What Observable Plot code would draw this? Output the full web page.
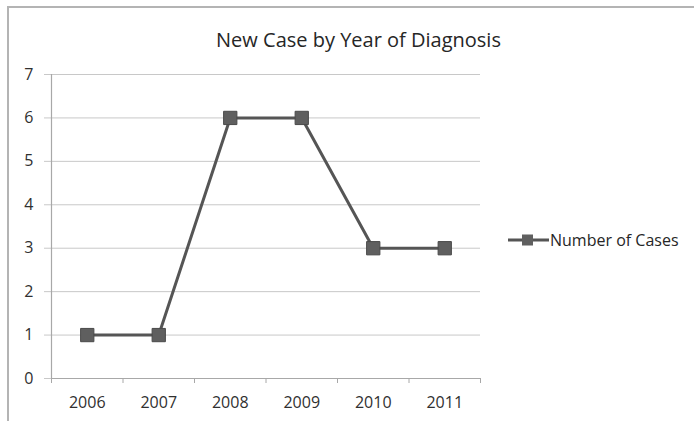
<!DOCTYPE html>
<html>
<head>
<meta charset="utf-8">
<script src="https://cdn.jsdelivr.net/npm/d3@7"></script>
<script src="https://cdn.jsdelivr.net/npm/@observablehq/plot@0.6"></script>
<style>
  html, body { margin: 0; padding: 0; background: #fff; overflow: hidden; }
  #wrap { position: relative; width: 694px; height: 421px; overflow: hidden; font-family: "Open Sans", Lato, sans-serif; }
  #frame { position: absolute; left: 7px; top: 6px; width: 720px; height: 450px; border-left: 2px solid #b4b4b4; border-top: 2px solid #b4b4b4; box-sizing: border-box; }
  #title { position: relative; height: 58px; box-sizing: border-box; padding-top: 28px; padding-left: 23px; line-height: 24px; text-align: center; font-size: 20px; color: #262626; }
  #legend { position: absolute; left: 508px; top: 229px; display: flex; align-items: center; font-size: 16px; color: #262626; }
  #chart { position: relative; }
</style>
</head>
<body>
<div id="wrap">
  <div id="frame"></div>
  <div id="title"></div>
  <div id="chart"></div>
  <div id="legend"></div>
</div>
<script>
const titleText = "New Case by Year of Diagnosis";
const seriesName = "Number of Cases";
const years = [2006, 2007, 2008, 2009, 2010, 2011];
const cases = [1, 1, 6, 6, 3, 3];
const yTicks = [0, 1, 2, 3, 4, 5, 6, 7];

const data = years.map((y, i) => ({year: y, value: cases[i]}));
const edges = [years[0] - 0.5, ...years.map(y => y + 0.5)];

const lineColor = "#555555";
const markerColor = "#5f5f5f";

document.getElementById("title").textContent = titleText;

const chart = Plot.plot({
  width: 694,
  height: 363,
  marginLeft: 51,
  marginRight: 214,
  marginTop: 16,
  marginBottom: 43,
  style: {fontFamily: "'Open Sans', Lato, sans-serif", fontSize: "16px", color: "#333", background: "transparent"},
  x: {domain: [edges[0], edges[edges.length - 1]]},
  y: {domain: [0, 7]},
  marks: [
    Plot.gridY(yTicks, {stroke: "#c8c8c8", strokeOpacity: 1, x1: edges[0], x2: edges[edges.length - 1]}),
    Plot.axisY(yTicks, {tickSize: 7, tickPadding: 11, stroke: "#c8c8c8", fill: "#303030", label: null}),
    Plot.ruleX([edges[0]], {stroke: "#a8a8a8", strokeWidth: 1.2}),
    Plot.ruleY([0], {stroke: "#a8a8a8", strokeWidth: 1.2}),
    Plot.axisX(edges, {tickSize: 5, tickFormat: () => "", stroke: "#a8a8a8", label: null}),
    Plot.axisX(years, {tickSize: 0, tickPadding: 18, tickFormat: "d", fill: "#303030", label: null}),
    Plot.line(data, {x: "year", y: "value", stroke: lineColor, strokeWidth: 3}),
    Plot.dot(data, {x: "year", y: "value", symbol: "square", r: 7.5, fill: markerColor, stroke: "#4a4a4a", strokeWidth: 1})
  ]
});
document.getElementById("chart").appendChild(chart);

const legend = document.getElementById("legend");
legend.innerHTML = `<svg width="41" height="14" style="margin-right:1px"><line x1="0" y1="7" x2="41" y2="7" stroke="${lineColor}" stroke-width="3"/><rect x="14" y="1.5" width="11" height="11" fill="${markerColor}"/></svg><span>${seriesName}</span>`;
</script>
</body>
</html>
